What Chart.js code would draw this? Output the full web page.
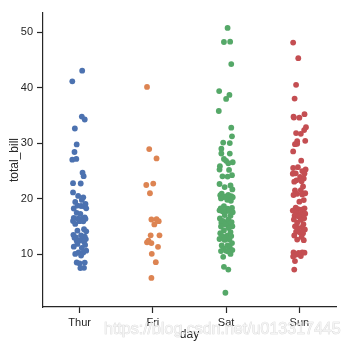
<!DOCTYPE html>
<html>
<head>
<meta charset="utf-8">
<script src="https://cdn.jsdelivr.net/npm/chart.js@4/dist/chart.umd.min.js"></script>
<style>
  body { margin: 0; background: #fff; }
  canvas { display: block; }
</style>
</head>
<body>
<canvas id="strip" width="348" height="348"></canvas>
<script>
const days = ['Thur', 'Fri', 'Sat', 'Sun'];
const yTicks = [10, 20, 30, 40, 50];
const colors = ['#4C72B0', '#DD8452', '#55A868', '#C44E52'];

// total_bill per day, with the horizontal jitter (in category units)
const thurBill = [43.11, 41.19, 34.83, 34.30, 32.68, 29.80, 28.44, 27.20, 27.05, 24.71,
    24.08, 22.82, 22.76, 21.16, 20.53, 20.27, 19.81, 19.44, 19.08, 18.78,
    18.71, 18.64, 18.28, 18.26, 17.47, 17.29, 16.66, 16.58, 16.47, 16.43,
    16.40, 16.00, 15.98, 15.95, 15.48, 14.52, 14.26, 14.15, 13.51, 13.42,
    13.16, 13.03, 13.00, 13.00, 12.74, 12.48, 12.43, 12.26, 11.87, 11.69,
    11.38, 11.17, 10.65, 10.34, 10.33, 10.07, 9.78, 8.52, 8.51, 8.35,
    7.56, 7.51];
const thurJit = [0.035, -0.10, 0.03, 0.07, -0.065, -0.04, -0.07, -0.045, -0.10, 0.04,
    0.055, -0.09, 0.015, -0.09, -0.02, 0.05, 0.03, -0.06, 0.08, -0.03,
    0.02, 0.06, 0.09, -0.08, -0.04, 0.01, 0.07, -0.08, 0.04, -0.02,
    0.08, -0.09, 0.0, 0.05, -0.06, 0.06, -0.03, 0.09, -0.085, 0.02,
    0.07, -0.05, 0.04, -0.07, 0.085, 0.0, -0.04, 0.06, -0.03, 0.075,
    -0.08, 0.03, 0.09, -0.015, 0.05, -0.06, 0.02, -0.04, 0.07, 0.0,
    0.06, 0.01];

const friBill = [40.17, 28.97, 27.28, 22.75, 22.49, 21.01, 16.32, 16.27, 15.98, 15.38,
    13.42, 13.42, 12.46, 12.16, 12.03, 11.35, 10.09, 8.58, 5.75];
const friJit = [-0.08, -0.05, 0.05, 0.005, -0.09, -0.04, 0.05, -0.02, 0.08, 0.02,
    -0.03, 0.09, -0.06, -0.08, -0.02, 0.07, -0.015, 0.04, -0.02];

const satBill = [50.81, 48.33, 48.27, 44.30, 39.42, 38.73, 38.01, 35.83, 32.83, 31.27,
    30.14, 30.06, 29.03, 28.17, 28.15, 27.18, 26.86, 26.59, 26.41, 25.89,
    25.28, 25.21, 24.27, 24.06, 24.01, 22.67, 22.42, 22.12, 21.70, 20.92,
    20.69, 20.65, 20.49, 20.45, 20.29, 20.29, 20.23, 20.08, 19.82, 19.65,
    18.69, 18.35, 18.29, 18.24, 17.92, 17.92, 17.82, 17.81, 17.78, 17.59,
    17.07, 16.93, 16.45, 16.31, 16.04, 15.81, 15.77, 15.69, 15.53, 15.36,
    15.06, 15.01, 14.73, 14.31, 14.00, 13.81, 13.37, 13.28, 13.27, 12.90,
    12.76, 12.69, 12.60, 12.02, 11.61, 11.59, 11.24, 11.02, 10.77, 10.63,
    10.59, 10.51, 10.07, 9.55, 7.74, 7.25, 3.07];
const satJit = [0.02, 0.055, -0.03, 0.07, -0.095, 0.045, 0.0, -0.10, 0.07, 0.08,
    -0.04, 0.05, -0.065, -0.065, 0.05, -0.03, 0.0, 0.09, 0.03, -0.085,
    -0.09, 0.04, 0.08, -0.05, 0.02, -0.09, 0.06, -0.02, 0.085, -0.06,
    0.03, -0.08, 0.07, 0.0, -0.04, 0.09, 0.045, -0.07, 0.015, 0.065,
    -0.03, 0.08, -0.075, 0.02, 0.055, -0.09, 0.0, 0.04, -0.05, 0.09,
    -0.02, 0.06, -0.085, 0.03, -0.045, 0.075, 0.01, -0.065, 0.05, -0.01,
    0.085, -0.07, 0.035, -0.03, 0.06, -0.08, 0.015, 0.07, -0.05, 0.0,
    -0.09, 0.045, -0.02, 0.08, 0.02, -0.06, 0.05, -0.035, 0.085, 0.0,
    -0.07, 0.03, 0.06, -0.04, -0.03, 0.03, -0.01];

const sunBill = [48.17, 45.35, 40.55, 38.07, 35.26, 34.81, 34.65, 34.63, 32.90, 32.40,
    31.85, 31.71, 30.46, 30.40, 29.93, 29.85, 28.55, 26.88, 25.71, 25.56,
    25.29, 25.00, 24.59, 24.55, 24.52, 23.95, 23.68, 23.33, 23.17, 23.10,
    22.23, 21.58, 21.50, 21.01, 20.90, 20.76, 20.69, 19.77, 19.49, 18.43,
    18.29, 18.15, 18.04, 17.89, 17.51, 17.46, 17.31, 17.26, 16.99, 16.97,
    16.82, 16.49, 16.29, 16.21, 15.69, 15.42, 15.04, 14.83, 14.78, 14.48,
    14.07, 13.94, 13.81, 13.39, 13.13, 12.66, 12.54, 10.34, 10.33, 10.29,
    10.27, 9.94, 9.68, 9.60, 8.77, 7.25];
const sunJit = [-0.085, -0.015, -0.045, -0.065, 0.07, -0.08, -0.075, 0.0, 0.09, 0.065,
    -0.045, 0.02, 0.08, -0.03, -0.03, -0.06, -0.085, 0.025, -0.02, -0.085,
    0.085, 0.04, -0.05, 0.07, -0.09, 0.01, 0.06, -0.04, 0.03, -0.07,
    0.05, 0.02, -0.06, 0.08, -0.03, 0.04, -0.08, 0.06, 0.0, -0.05,
    0.07, -0.02, 0.03, -0.09, 0.05, -0.04, 0.08, 0.01, -0.065, 0.035,
    -0.01, 0.065, -0.075, 0.02, -0.03, 0.055, -0.06, 0.04, -0.02, 0.075,
    -0.045, 0.01, 0.05, -0.07, 0.03, -0.03, 0.06, 0.04, -0.08, 0.07,
    -0.01, -0.05, 0.02, -0.085, -0.06, -0.07];

const bills = [thurBill, friBill, satBill, sunBill];
const jitters = [thurJit, friJit, satJit, sunJit];

const ink = '#262626';
Chart.defaults.font.family = "'Liberation Sans', Arial, sans-serif";
Chart.defaults.color = ink;

const datasets = days.map(function (day, i) {
    return {
        label: day,
        data: bills[i].map(function (v, k) {
            return { x: i + jitters[i][k], y: v };
        }),
        backgroundColor: colors[i],
        borderWidth: 0,
        pointRadius: 2.9,
        pointHoverRadius: 2.9
    };
});

// watermark over the bottom of the figure (whitish text with a faint grey edge)
const watermark = {
    id: 'watermark',
    afterDraw(chart) {
        const ctx = chart.ctx;
        ctx.save();
        ctx.font = "16px 'Liberation Sans', Arial, sans-serif";
        ctx.textBaseline = 'alphabetic';
        ctx.lineWidth = 0.7;
        ctx.strokeStyle = 'rgba(180, 180, 180, 0.55)';
        ctx.strokeText('https://blog.csdn.net/u013317445', 104, 334);
        ctx.fillStyle = 'rgba(245, 245, 245, 0.85)';
        ctx.fillText('https://blog.csdn.net/u013317445', 104, 334);
        ctx.restore();
    }
};

const config = {
    type: 'scatter',
    data: { datasets: datasets },
    options: {
        responsive: false,
        animation: false,
        layout: { padding: { top: 13, right: 12, left: 0, bottom: 0 } },
        plugins: {
            legend: { display: false },
            tooltip: { enabled: false }
        },
        scales: {
            x: {
                type: 'linear',
                min: -0.5,
                max: 3.5,
                afterBuildTicks: function (s) {
                    s.ticks = days.map(function (d, i) { return { value: i }; });
                },
                afterFit: function (s) { s.height = 41; },
                ticks: {
                    font: { size: 11 },
                    color: ink,
                    padding: 3,
                    callback: function (v) { return days[v]; }
                },
                grid: { drawOnChartArea: false, tickLength: 6, color: ink, tickWidth: 1.2 },
                border: { color: ink, width: 1.2 },
                title: { display: true, text: 'day', font: { size: 12 }, color: ink, padding: { top: 0, bottom: 6 } }
            },
            y: {
                min: 0.5,
                max: 53.5,
                afterBuildTicks: function (s) {
                    s.ticks = yTicks.map(function (v) { return { value: v }; });
                },
                afterFit: function (s) { s.width = 43; },
                ticks: { font: { size: 11 }, color: ink, padding: 4 },
                grid: { drawOnChartArea: false, tickLength: 6, color: ink, tickWidth: 1.2 },
                border: { color: ink, width: 1.2 },
                title: { display: true, text: 'total_bill', font: { size: 12 }, color: ink, padding: { top: 7, bottom: 0 } }
            }
        }
    },
    plugins: [watermark]
};

const canvasElement = document.getElementById('strip');
const stripChart = new Chart(canvasElement, config);
</script>
</body>
</html>
